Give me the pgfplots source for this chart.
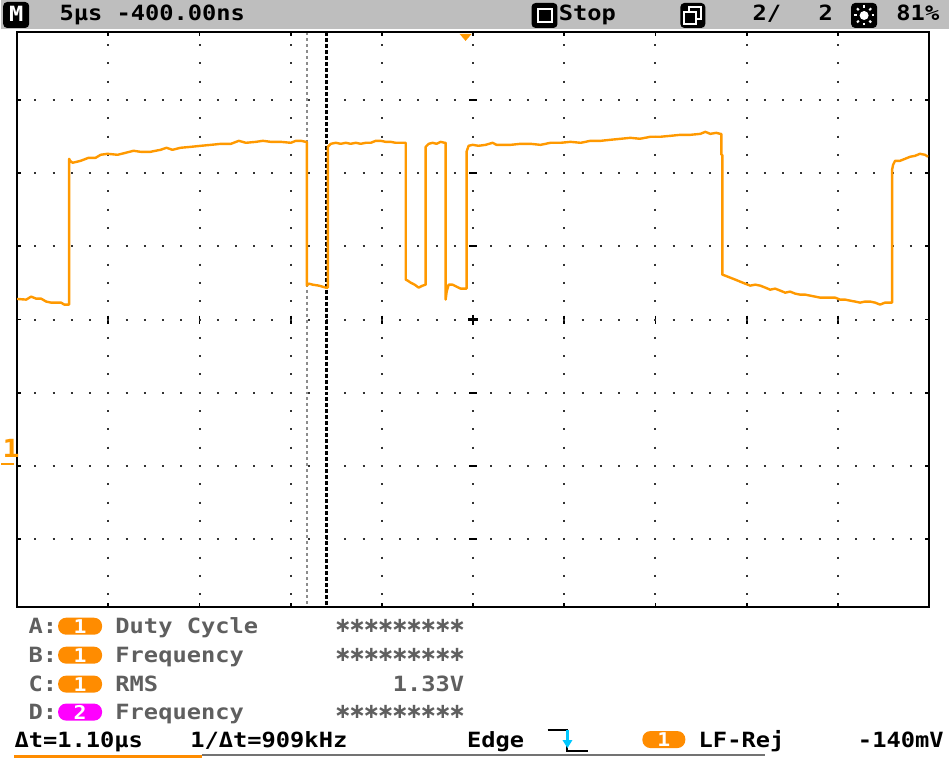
\documentclass[border=0pt]{standalone}
\usepackage{fontspec}
\usepackage{pgfplots}
\pgfplotsset{compat=1.18}
\newfontfamily\scopefont[FakeStretch=1.13]{DejaVu Sans Mono}
\newfontfamily\symfont{DejaVu Sans}
\definecolor{trace}{RGB}{255,153,0}
\definecolor{pill}{RGB}{255,140,0}
\definecolor{pinkpill}{RGB}{255,0,255}
\definecolor{barg}{RGB}{190,190,190}
\definecolor{txtg}{RGB}{95,95,95}
\definecolor{trigc}{RGB}{0,200,255}
\newcommand\sfnt{\scopefont\bfseries\fontsize{10.5}{12}\selectfont}
\newcommand\pfnt{\scopefont\bfseries\fontsize{9.5}{10}\selectfont}
\newcommand\st{\makebox[7.15pt]{\symfont\fontsize{10.5}{11}\selectfont\raisebox{0.2pt}{∗}}}
\newcommand\stars{\st\st\st\st\st\st\st\st\st}

\begin{document}
\begin{tikzpicture}
% pixel frame: 1px = 0.5pt, y downwards
\begin{scope}[x=0.5pt,y=-0.5pt]
\path[use as bounding box] (0,0) rectangle (949,759);
\fill[white] (0,0) rectangle (949,759);
\fill[barg] (0,0) rectangle (949,29);
% graticule: dotted lines, 5 dots per division
\foreach \k in {1,...,9} {
  \draw[line width=1pt, dash pattern=on 1pt off 8.1625pt, black!80]
    ({16+\k*91.3}, {320-15*18.325-1}) -- ({16+\k*91.3}, {320+15*18.325+1});
  \draw[line width=0.9pt] ({16+\k*91.3}, 316) -- ({16+\k*91.3}, 324);
  \draw[line width=0.9pt] ({16+\k*91.3}, 32) -- ({16+\k*91.3}, 36);
  \draw[line width=0.9pt] ({16+\k*91.3}, 604) -- ({16+\k*91.3}, 608);
}
\foreach \m in {-3,...,3} {
  \draw[line width=1pt, dash pattern=on 1pt off 8.13pt, black!80]
    ({16+18.26-1}, {320+\m*73.3}) -- ({929-18.26+1}, {320+\m*73.3});
  \draw[line width=0.9pt] (468.5, {320+\m*73.3}) -- (476.5, {320+\m*73.3});
  \draw[line width=0.9pt] (16, {320+\m*73.3}) -- (20, {320+\m*73.3});
  \draw[line width=0.9pt] (925, {320+\m*73.3}) -- (929, {320+\m*73.3});
}
\draw[line width=1.2pt] (467.5,320) -- (477.5,320) (472.5,315) -- (472.5,325);
% cursors
\draw[black!45, line width=1pt, dash pattern=on 1.5pt off 1.5pt] (305.7,32) -- (305.7,608);
\draw[black, line width=1.1pt, dash pattern=on 2pt off 1pt] (325.7,32) -- (325.7,608);
\end{scope}

\begin{axis}[
  at={(8pt,-304pt)}, anchor=south west,
  scale only axis, width=456.5pt, height=288pt,
  xmin=-5, xmax=5, ymin=-3.929, ymax=3.929,
  xtick=\empty, ytick=\empty,
  axis line style={line width=1pt, black},
  clip=false,
]
% channel 1 trace, x in divisions from centre, y in divisions
\addplot[trace, line width=1.2pt, line join=round] coordinates {
(-5.000,0.282) (-4.901,0.273) (-4.847,0.314) (-4.792,0.286) (-4.737,0.286)
(-4.682,0.246) (-4.628,0.232) (-4.573,0.232) (-4.518,0.232) (-4.485,0.205)
(-4.452,0.205) (-4.430,0.205) (-4.430,2.196) (-4.419,2.169) (-4.392,2.142)
(-4.304,2.169) (-4.217,2.210) (-4.140,2.210) (-4.085,2.251) (-4.009,2.265)
(-3.899,2.251) (-3.812,2.278) (-3.724,2.306) (-3.647,2.292) (-3.538,2.292)
(-3.428,2.319) (-3.362,2.347) (-3.297,2.319) (-3.209,2.347) (-3.094,2.360)
(-2.985,2.374) (-2.875,2.387) (-2.766,2.401) (-2.656,2.401) (-2.569,2.442)
(-2.492,2.415) (-2.382,2.428) (-2.306,2.442) (-2.218,2.428) (-2.108,2.428)
(-1.999,2.415) (-1.944,2.442) (-1.889,2.442) (-1.834,2.428) (-1.823,2.428)
(-1.823,0.464) (-1.801,0.491) (-1.758,0.477) (-1.692,0.464) (-1.615,0.437)
(-1.593,0.437) (-1.593,2.360) (-1.561,2.401) (-1.506,2.415) (-1.451,2.401)
(-1.396,2.415) (-1.342,2.401) (-1.287,2.415) (-1.232,2.401) (-1.177,2.415)
(-1.122,2.415) (-1.068,2.442) (-1.013,2.442) (-0.958,2.428) (-0.904,2.428)
(-0.849,2.415) (-0.794,2.415) (-0.739,2.415) (-0.739,0.546) (-0.717,0.532)
(-0.685,0.505) (-0.641,0.477) (-0.597,0.437) (-0.553,0.464) (-0.520,0.477)
(-0.520,2.360) (-0.487,2.401) (-0.444,2.415) (-0.400,2.401) (-0.356,2.428)
(-0.312,2.415) (-0.301,2.415) (-0.301,0.273) (-0.290,0.382) (-0.268,0.477)
(-0.225,0.477) (-0.181,0.450) (-0.137,0.423) (-0.082,0.423) (-0.071,0.423)
(-0.071,2.296) (-0.049,2.374) (-0.005,2.387) (0.060,2.374) (0.137,2.387)
(0.214,2.415) (0.257,2.387) (0.411,2.387) (0.520,2.401) (0.630,2.401)
(0.740,2.387) (0.849,2.415) (0.960,2.415) (1.068,2.428) (1.180,2.415)
(1.287,2.442) (1.400,2.442) (1.506,2.456) (1.620,2.470) (1.725,2.483)
(1.830,2.470) (1.944,2.497) (2.050,2.497) (2.163,2.510) (2.273,2.524)
(2.382,2.524) (2.492,2.537) (2.547,2.565) (2.601,2.537) (2.667,2.551)
(2.711,2.537) (2.722,2.537) (2.722,2.251) (2.733,2.251) (2.733,0.614)
(2.765,0.600) (2.820,0.573) (2.875,0.546) (2.930,0.518) (2.984,0.491)
(3.039,0.464) (3.094,0.477) (3.149,0.464) (3.204,0.437) (3.258,0.409)
(3.313,0.423) (3.368,0.396) (3.423,0.368) (3.477,0.382) (3.532,0.355)
(3.587,0.341) (3.642,0.341) (3.697,0.327) (3.751,0.314) (3.806,0.300)
(3.861,0.300) (3.916,0.300) (3.970,0.300) (4.025,0.273) (4.080,0.273)
(4.135,0.259) (4.190,0.246) (4.244,0.232) (4.299,0.246) (4.354,0.246)
(4.409,0.232) (4.463,0.205) (4.518,0.232) (4.573,0.232) (4.595,0.232)
(4.595,2.046) (4.606,2.115) (4.628,2.169) (4.682,2.169) (4.737,2.196)
(4.792,2.224) (4.847,2.237) (4.901,2.265) (4.956,2.251) (4.989,2.224)
};
\end{axis}

\begin{scope}[x=0.5pt,y=-0.5pt]
% trigger position and channel marker
\fill[trace] (459,34) -- (471,34) -- (465,41) -- cycle;
\node[trace, anchor=base west, inner sep=0pt, font=\scopefont\bfseries\fontsize{12.5}{14}\selectfont] at (1,458) {1};
\draw[trace, line width=1.2pt] (0,464.5) -- (13,464.5);
% top status bar
\fill[black, rounded corners=2pt] (2,2) rectangle (28,28);
\node[white, anchor=base, inner sep=0pt, font=\sfnt] at (15,22) {M};
\node[anchor=base west, inner sep=0pt, font=\sfnt] at (58,21) {5µs -400.00ns};
\fill[black, rounded corners=2pt] (531,3) rectangle (557,28);
\draw[white, line width=1pt] (537,9) rectangle (551,22);
\node[anchor=base west, inner sep=0pt, font=\sfnt] at (558,21) {Stop};
\fill[black, rounded corners=2pt] (680,3) rectangle (705,28);
\draw[white, line width=1pt] (689,7) rectangle (701,19);
\filldraw[draw=white, fill=black, line width=1pt] (684,12) rectangle (696,24);
\node[anchor=base west, inner sep=0pt, font=\sfnt] at (752,21) {2/};
\node[anchor=base west, inner sep=0pt, font=\sfnt] at (818,21) {2};
\fill[black, rounded corners=2pt] (851,3) rectangle (877,28);
\fill[white] (864,15.5) circle (4.5);
\foreach \a in {0,45,...,315} {
  \draw[white, line width=1pt] ({864+7.5*cos(\a)},{15.5+7.5*sin(\a)}) -- ({864+10*cos(\a)},{15.5+10*sin(\a)});
}
\node[anchor=base west, inner sep=0pt, font=\sfnt] at (896,21) {81\%};
% measurements
\foreach \yb/\lab/\ch/\col/\name in {634/A/1/pill/Duty Cycle, 663/B/1/pill/Frequency, 692/C/1/pill/RMS, 720/D/2/pinkpill/Frequency} {
  \node[txtg, anchor=base west, inner sep=0pt, font=\sfnt] at (27,\yb) {\lab:};
  \fill[\col, rounded corners=4pt] (57,{\yb-15.5}) rectangle (101,{\yb+1.5});
  \node[white, anchor=center, inner sep=0pt, font=\pfnt] at (79,{\yb-7}) {\ch};
  \node[txtg, anchor=base west, inner sep=0pt, font=\sfnt] at (114,\yb) {\name};
}
\node[txtg, anchor=base east, inner sep=0pt, font=\sfnt] at (464,634) {\stars};
\node[txtg, anchor=base east, inner sep=0pt, font=\sfnt] at (464,663) {\stars};
\node[txtg, anchor=base east, inner sep=0pt, font=\sfnt] at (464,692) {1.33V};
\node[txtg, anchor=base east, inner sep=0pt, font=\sfnt] at (464,720) {\stars};
% bottom status row
\node[anchor=base west, inner sep=0pt, font=\sfnt] at (13,748) {Δt=1.10µs};
\node[anchor=base west, inner sep=0pt, font=\sfnt] at (189,748) {1/Δt=909kHz};
\node[anchor=base west, inner sep=0pt, font=\sfnt] at (466,748) {Edge};
\draw[black, line width=1pt] (547,731) -- (567,731) -- (567,752) -- (588,752);
\draw[trigc, line width=1.4pt] (567,731) -- (567,742);
\fill[trigc] (562,741) -- (572,741) -- (567,749) -- cycle;
\fill[pill, rounded corners=4pt] (642,732) rectangle (685,749);
\node[white, anchor=center, inner sep=0pt, font=\pfnt] at (663.5,740.5) {1};
\node[anchor=base west, inner sep=0pt, font=\sfnt] at (698,748) {LF-Rej};
\node[anchor=base east, inner sep=0pt, font=\sfnt] at (944,748) {-140mV};
\draw[pill, line width=1.2pt] (13,757.5) -- (201,757.5);
\draw[black!55, line width=0.8pt] (201,756) -- (765,756);
\end{scope}
\end{tikzpicture}
\end{document}
